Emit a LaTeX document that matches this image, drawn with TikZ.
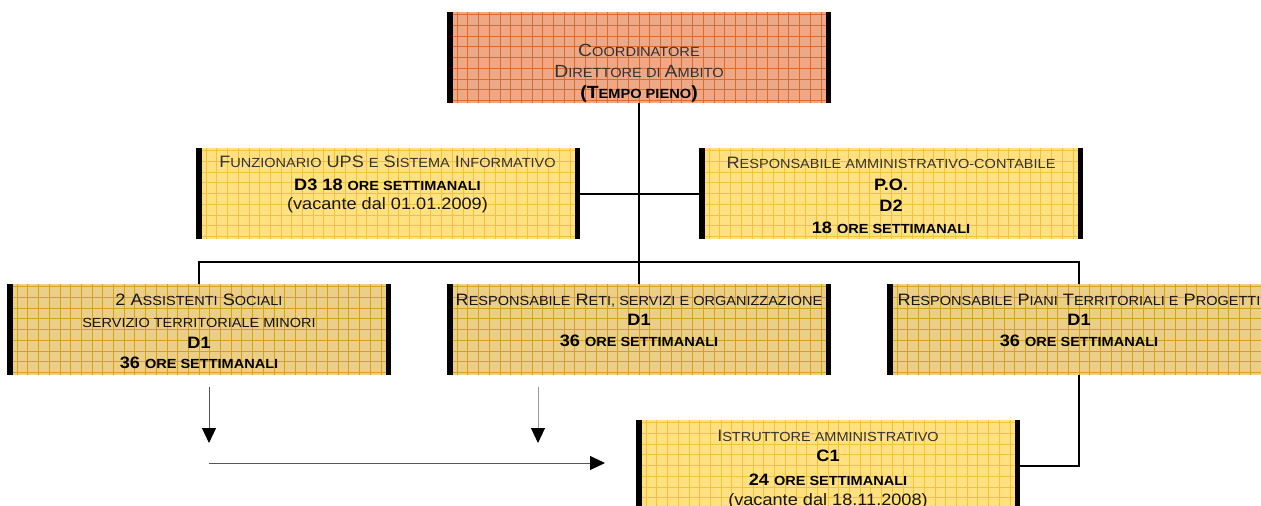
\documentclass[tikz,border=0pt]{standalone}
\usepackage{fontspec}
\setmainfont{Liberation Sans}[FakeStretch=1.10]
\usetikzlibrary{arrows.meta}
\definecolor{salmonfill}{HTML}{EDA888}
\definecolor{salmongrid}{HTML}{DE6A2E}
\definecolor{yelfill}{HTML}{FFE182}
\definecolor{yelgrid}{HTML}{F2C23A}
\definecolor{ochfill}{HTML}{ECCF87}
\definecolor{ochgrid}{HTML}{D6A21E}
\definecolor{titlegray}{HTML}{333333}
\definecolor{titledark}{HTML}{151515}
\definecolor{arrgray}{HTML}{555555}
\definecolor{arrlight}{HTML}{999999}
\newcommand\fs{\fontsize{16.5pt}{20pt}\selectfont}
\newcommand\sm[1]{{\fontsize{13.2pt}{15pt}\selectfont #1}}
\newcommand\fsT{\fontsize{17.6pt}{21pt}\selectfont}
\newcommand\smT[1]{{\fontsize{13.3pt}{16pt}\selectfont #1}}
\newcommand\stack[2][21pt]{\vtop{\baselineskip=#1\relax\lineskiplimit=-100pt\lineskip=0pt\halign{\hfil##\hfil\cr#2\crcr}}}
\tikzset{
  gridfill/.style 2 args={fill=#1, path picture={\draw[#2, line width=0.8pt] (path picture bounding box.south west) grid[step=10.7pt] (path picture bounding box.north east);}},
  orgbox/.style={rectangle, inner sep=0pt, outer sep=0pt, anchor=north west, minimum width=384pt, minimum height=91pt},
  topbox/.style={orgbox, gridfill={salmonfill}{salmongrid}},
  yelbox/.style={orgbox, gridfill={yelfill}{yelgrid}},
  ochbox/.style={orgbox, gridfill={ochfill}{ochgrid}},
  txt/.style={inner sep=0pt, outer sep=0pt, anchor=base},
  conn/.style={draw=black, line width=2pt},
  arr/.style={line width=1pt, -{Triangle[length=15pt,width=14pt,color=black]}}
}
\begin{document}
\begin{tikzpicture}[x=1pt,y=-1pt]
\useasboundingbox (0,0) rectangle (1261,506);
\clip (0,0) rectangle (1261,506);
% boxes
\node[topbox] (top) at (447,12) {};
\node[yelbox] (l2l) at (196,148) {};
\node[yelbox] (l2r) at (699,148) {};
\node[ochbox] (l3l) at (7,284) {};
\node[ochbox] (l3m) at (447,284) {};
\node[ochbox] (l3r) at (887,284) {};
\node[yelbox] (bot) at (636,420) {};
\foreach \b in {top,l2l,l2r,l3l,l3m,l3r,bot}{
  \fill[black] (\b.north west) rectangle ([xshift=5.5pt]\b.south west);
  \fill[black] (\b.north east) rectangle ([xshift=-5.5pt]\b.south east);
}
% connectors
\coordinate (hub) at (639,262);
\draw[conn] (top.south) -- (hub);
\draw[conn] (hub) -- (l3m.north);
\draw[conn] (l2l.east) -- (l2r.west);
\draw[conn] (l3l.north) |- (hub) -| (l3r.north);
\draw[conn] (l3r.south) |- (bot.east);
% arrows
\coordinate (a1s) at (209,387);
\coordinate (a1e) at (209,443);
\coordinate (a2s) at (538,387);
\coordinate (a2e) at (538,443);
\coordinate (a3s) at (209,463);
\coordinate (a3e) at (605,463);
\draw[arr, draw=arrgray] (a1s) -- (a1e);
\draw[arr, draw=arrlight] (a2s) -- (a2e);
\draw[arr, draw=arrgray] (a3s) -- (a3e);
% texts
\node[txt] (ttop) at (639,56.7) {\fsT\stack[21pt]{\textcolor{titlegray}{C\smT{OORDINATORE}}\cr
  \textcolor{titlegray}{D\smT{IRETTORE DI }A\smT{MBITO}}\cr
  \textbf{(T\smT{EMPO PIENO})}}};
\node[txt] (tl2l) at (387.5,167.7) {\fs\stack[20.6pt]{\textcolor{titlegray}{F\sm{UNZIONARIO} UPS \sm{E} S\sm{ISTEMA} I\sm{NFORMATIVO}}\cr
  \noalign{\vskip2.4pt}\textbf{D3 18 \sm{ORE SETTIMANALI}}\cr
  \noalign{\vskip-2.3pt}\textcolor{titledark}{(vacante dal 01.01.2009)}}};
\node[txt] (tl2r) at (891,168.3) {\fs\stack[21.7pt]{\textcolor{titlegray}{R\sm{ESPONSABILE AMMINISTRATIVO-CONTABILE}}\cr
  \textbf{P.O.}\cr
  \textbf{D2}\cr
  \textbf{18 \sm{ORE SETTIMANALI}}}};
\node[txt] (tl3l) at (199,305) {\fs\stack[21pt]{\textcolor{titledark}{2 A\sm{SSISTENTI} S\sm{OCIALI}}\cr
  \noalign{\vskip1.3pt}\textcolor{titledark}{\sm{SERVIZIO TERRITORIALE MINORI}}\cr
  \textbf{D1}\cr
  \noalign{\vskip-1pt}\textbf{36 \sm{ORE SETTIMANALI}}}};
\node[txt] (tl3m) at (639,305) {\fs\stack[20.8pt]{\textcolor{titledark}{R\sm{ESPONSABILE} R\sm{ETI, SERVIZI E ORGANIZZAZIONE}}\cr
  \textbf{D1}\cr
  \textbf{36 \sm{ORE SETTIMANALI}}}};
\node[txt] (tl3r) at (1079,305) {\fs\stack[20.8pt]{\textcolor{titledark}{R\sm{ESPONSABILE} P\sm{IANI} T\sm{ERRITORIALI E} P\sm{ROGETTI}}\cr
  \textbf{D1}\cr
  \textbf{36 \sm{ORE SETTIMANALI}}}};
\node[txt] (tbot) at (828,441.7) {\fs\stack[20pt]{\textcolor{titlegray}{I\sm{STRUTTORE AMMINISTRATIVO}}\cr
  \textbf{C1}\cr
  \noalign{\vskip3.3pt}\textbf{24 \sm{ORE SETTIMANALI}}\cr
  \textcolor{titledark}{(vacante dal 18.11.2008)}}};
\end{tikzpicture}
\end{document}
